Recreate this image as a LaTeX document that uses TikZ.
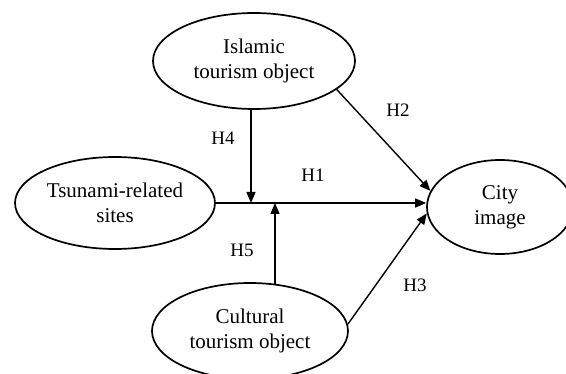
\documentclass[tikz,border=0pt]{standalone}
\usepackage{fontspec}
\setmainfont{Liberation Serif}
\usetikzlibrary{shapes.geometric,arrows.meta,calc}
\begin{document}
\begin{tikzpicture}[x=1pt,y=-1pt,
  var/.style={draw,ellipse,line width=1.7pt,inner sep=0pt,align=center,
    font=\fontsize{21}{25}\selectfont},
  arr/.style={line width=1.4pt,-{Triangle[length=11pt,width=9pt]}},
  hyp/.style={font=\fontsize{19}{21}\selectfont,inner sep=0pt}]
\useasboundingbox (0,0) rectangle (566,374);
\node[var,minimum width=202pt,minimum height=96pt] (isl) at (254,61) {Islamic\\tourism object};
\node[var,minimum width=200pt,minimum height=92pt] (tsu) at (115,203) {Tsunami-related\\sites};
\node[var,minimum width=196pt,minimum height=96pt] (cult) at (250,331) {Cultural\\tourism object};
\node[var,minimum width=146pt,minimum height=94pt] (city) at (500,207) {City\\image};
\coordinate (j4) at (251,203);
\coordinate (j5) at (275,203);
\draw[arr] (tsu.east) -- (tsu.east -| city.west);
\draw[arr] (j4 |- isl.south) -- (j4);
\draw[arr] ($(j5 |- cult.north)+(0,1.6)$) -- (j5);
\draw[arr] (isl.-19) -- (city.167);
\draw[arr] (cult.4) -- (city.185);
\node[hyp] (h1) at (313,175) {H1};
\node[hyp] (h2) at (398,110) {H2};
\node[hyp] (h3) at (415,285) {H3};
\node[hyp] (h4) at (223,138) {H4};
\node[hyp] (h5) at (242,250) {H5};
\end{tikzpicture}
\end{document}
